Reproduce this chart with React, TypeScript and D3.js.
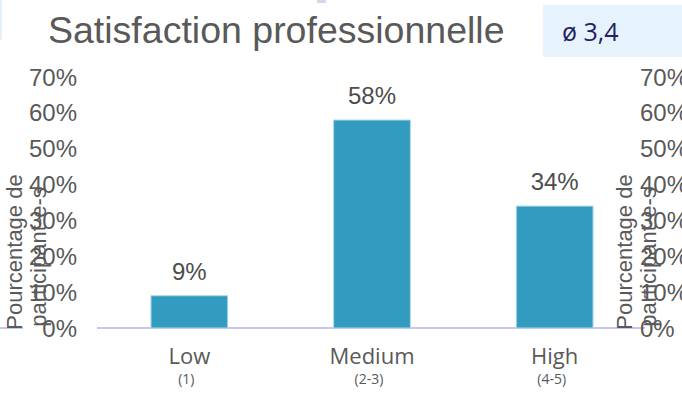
import React from "react";
import * as d3 from "d3";

const categories = ["Low", "Medium", "High"];
const subLabels = ["(1)", "(2-3)", "(4-5)"];
const values = [0.09, 0.58, 0.34];
const valueLabels = ["9%", "58%", "34%"];
const ticks = [0, 0.1, 0.2, 0.3, 0.4, 0.5, 0.6, 0.7];
const tickLabels = ["0%", "10%", "20%", "30%", "40%", "50%", "60%", "70%"];
const title = "Satisfaction professionnelle";
const badge = "ø 3,4";
const axisTitle = ["Pourcentage de", "participant-e-s"];

const W = 682;
const H = 394;

export default function App() {
  const x = d3
    .scaleBand<string>()
    .domain(categories)
    .range([98, 646])
    .paddingInner(0.58)
    .paddingOuter(0.29);
  const y = d3.scaleLinear().domain([0, 0.7]).range([328, 77]);
  const arial = "'Liberation Sans', Arial, sans-serif";
  const segoe = "'Open Sans', 'Noto Sans', sans-serif";
  const grey = "#595959";

  return (
    <svg
      width={W}
      height={H}
      style={{ position: "absolute", left: 0, top: 0, background: "#fff" }}
    >
      <rect x={0} y={0} width={2} height={40} fill="#e6f0f9" />
      <rect x={317} y={0} width={9} height={3} fill="#d6d6ec" />
      <text x={48} y={43} fontFamily={arial} fontSize={37.5} fill={grey}>
        {title}
      </text>
      <rect x={543} y={5} width={139} height={52} fill="#e6f2fc" />
      <text x={562} y={41} fontFamily={segoe} fontSize={25} fill="#1f2263">
        {badge}
      </text>

      {/* baseline */}
      <line x1={0} x2={23} y1={y(0)} y2={y(0)} stroke="#c6c6f4" strokeWidth={2} />
      <line x1={97} x2={645} y1={y(0)} y2={y(0)} stroke="#c6c6f4" strokeWidth={2} />

      {/* bars */}
      {categories.map((c, i) => (
        <rect
          key={c}
          x={x(c)!}
          y={y(values[i])}
          width={x.bandwidth()}
          height={y(0) - y(values[i])}
          fill="#329bbf"
          stroke="#a9d9ea"
          strokeWidth={1}
        />
      ))}
      {categories.map((c, i) => (
        <text
          key={c + "v"}
          x={x(c)! + x.bandwidth() / 2}
          y={y(values[i]) - 16}
          textAnchor="middle"
          fontFamily={arial}
          fontSize={24}
          fill="#4d4d4d"
        >
          {valueLabels[i]}
        </text>
      ))}

      {/* category labels */}
      {categories.map((c, i) => (
        <g key={c + "c"}>
          <text
            x={x(c)! + x.bandwidth() / 2}
            y={364}
            textAnchor="middle"
            fontFamily={segoe}
            fontSize={22}
            fill={grey}
          >
            {c}
          </text>
          <text
            x={x(c)! + x.bandwidth() / 2 - 3}
            y={384}
            textAnchor="middle"
            fontFamily={segoe}
            fontSize={14}
            fill={grey}
          >
            {subLabels[i]}
          </text>
        </g>
      ))}

      {/* left ticks */}
      {ticks.map((t, i) => (
        <text
          key={"l" + t}
          x={77}
          y={y(t)}
          textAnchor="end"
          dominantBaseline="central"
          fontFamily={arial}
          fontSize={24}
          fill={grey}
        >
          {tickLabels[i]}
        </text>
      ))}
      {/* right ticks */}
      {ticks.map((t, i) => (
        <text
          key={"r" + t}
          x={640}
          y={y(t)}
          dominantBaseline="central"
          fontFamily={arial}
          fontSize={24}
          fill={grey}
        >
          {tickLabels[i]}
        </text>
      ))}

      {/* axis titles */}
      {[
        [22, 46],
        [632, 656],
      ].map((xs, k) => (
        <g key={"t" + k}>
          {axisTitle.map((line, j) => (
            <text
              key={line}
              transform={`translate(${xs[j]},${j === 0 ? 252 : 257}) rotate(-90)`}
              textAnchor="middle"
              fontFamily={arial}
              fontSize={22}
              fill={grey}
            >
              {line}
            </text>
          ))}
        </g>
      ))}
    </svg>
  );
}
